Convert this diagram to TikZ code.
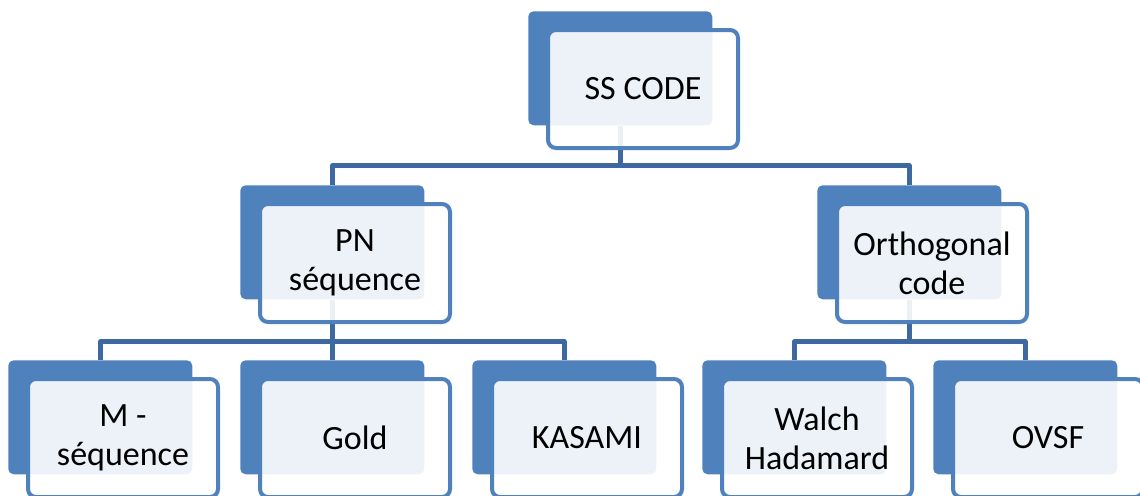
\documentclass[tikz,border=0pt]{standalone}
\usepackage{fontspec}
\setmainfont{Carlito}
\usetikzlibrary{calc,backgrounds}
\definecolor{accent}{HTML}{4F81BD}
\definecolor{linkblue}{HTML}{3E69A0}
\tikzset{
  backbox/.style={draw=none, fill=accent, rounded corners=4pt,
    minimum width=138pt, minimum height=85.5pt, inner sep=0pt, anchor=north west},
  frontbox/.style={draw=accent, line width=3pt, fill=white, fill opacity=0.9,
    draw opacity=1, text opacity=1, rounded corners=6pt,
    minimum width=142.5pt, minimum height=88.5pt,
    inner sep=0pt, anchor=north west, align=center,
    font=\fontsize{25.5}{29}\selectfont},
  conn/.style={draw=linkblue, line width=3.4pt, line join=round}
}
\newcommand{\frontof}[3]{%
  \node[frontbox] (#1) at ($(#2.north west)+(18,17)$) {#3};}
\begin{document}
\begin{tikzpicture}[x=0.75pt, y=-0.75pt]
\useasboundingbox (0,0) rectangle (1140,496);

% back plates
\node[backbox] (ssb) at (528,11) {};
\node[backbox] (pnb) at (240,185) {};
\node[backbox] (orb) at (817,185) {};
\node[backbox] (mb)  at (8,360) {};
\node[backbox] (gob) at (240,360) {};
\node[backbox] (kab) at (472,360) {};
\node[backbox] (wab) at (702,360) {};
\node[backbox] (ovb) at (933,360) {};

% junction points of the tree
\coordinate (j1) at ($(ssb.south)+(0,40)$);
\coordinate (j2) at ($(pnb.south)+(0,42)$);
\coordinate (j3) at ($(orb.south)+(0,42)$);

% connectors, kept beneath the plates
\begin{scope}[on background layer]
  \draw[conn] (ssb.south) -- (j1);
  \draw[conn] (pnb.north) |- (j1) -| (orb.north);
  \draw[conn] (pnb.south) -- (j2);
  \draw[conn] (mb.north) |- (j2) -| (kab.north);
  \draw[conn] (j2) -- (gob.north);
  \draw[conn] (orb.south) -- (j3);
  \draw[conn] (wab.north) |- (j3) -| (ovb.north);
\end{scope}

% front cards with the labels
\frontof{ss}{ssb}{SS CODE}
\frontof{pn}{pnb}{PN\\séquence}
\frontof{or}{orb}{Orthogonal\\code}
\frontof{m}{mb}{M -\\séquence}
\frontof{go}{gob}{Gold}
\frontof{ka}{kab}{KASAMI}
\frontof{wa}{wab}{Walch\\Hadamard}
\frontof{ov}{ovb}{OVSF}
\end{tikzpicture}
\end{document}
